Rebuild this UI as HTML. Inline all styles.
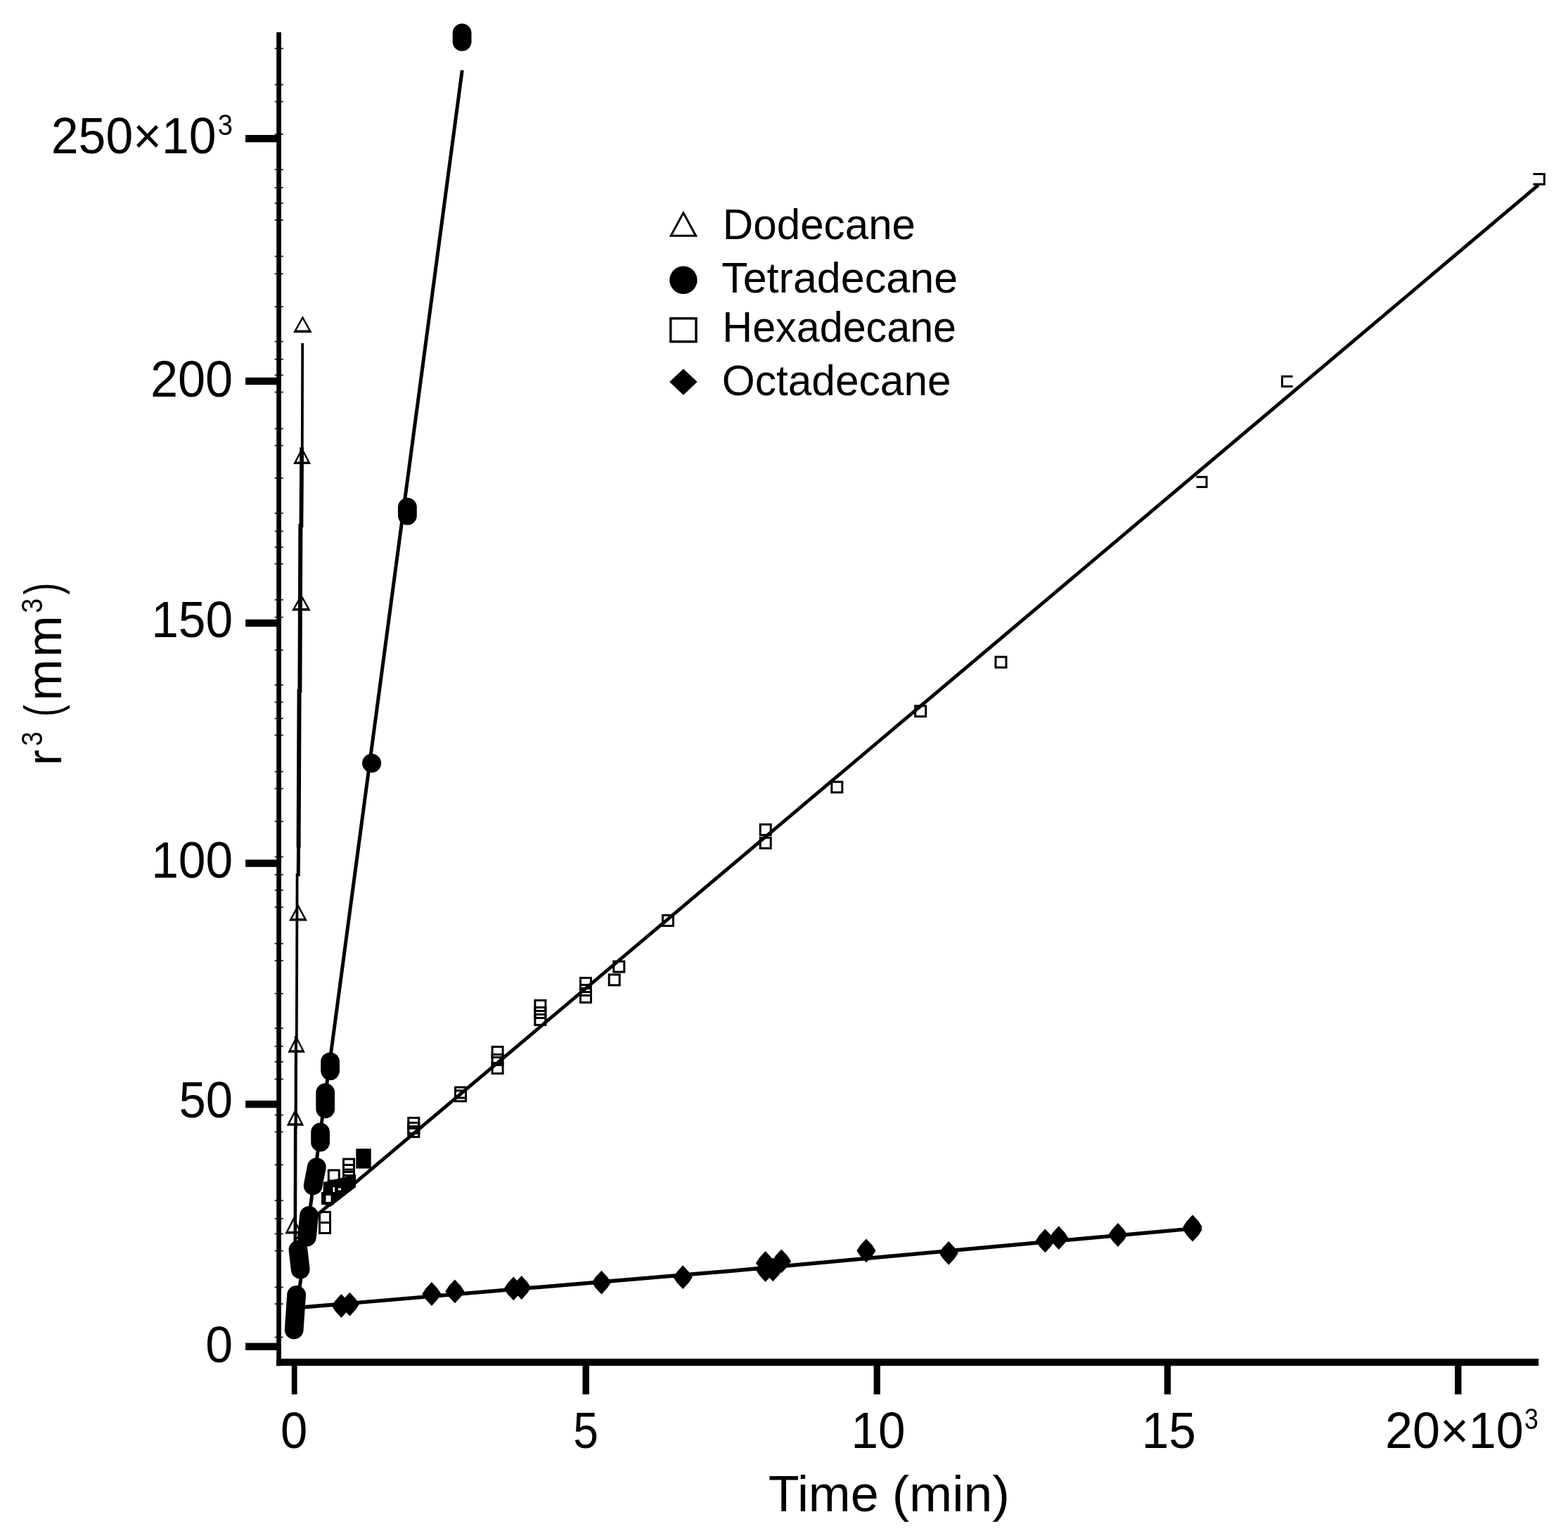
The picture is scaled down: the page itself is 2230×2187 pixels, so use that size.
<!DOCTYPE html>
<html lang="en"><head><meta charset="utf-8"><title>r³ (mm³) vs Time (min)</title>
<style>html,body{margin:0;padding:0;background:#fff;}body{width:2230px;height:2187px;overflow:hidden;}svg{display:block;}text{font-family:"Liberation Sans",Arial,sans-serif;fill:#000;}</style>
</head><body>
<svg width="2230" height="2187" viewBox="0 0 2230 2187" role="img" aria-label="Plot of r cubed versus time for four alkanes">
<rect x="0" y="0" width="2230" height="2187" fill="#fff"/>
<g id="axes" fill="#000">
<rect x="393.2" y="45.8" width="6.7" height="1896.4"/>
<rect x="393.2" y="1932.0" width="1795.0" height="10.2"/>
<rect x="349.1" y="191.9" width="45.1" height="10.4"/>
<rect x="349.1" y="536.8" width="45.1" height="10.4"/>
<rect x="349.1" y="880.8" width="45.1" height="10.4"/>
<rect x="349.1" y="1222.4" width="45.1" height="10.4"/>
<rect x="349.1" y="1565.0" width="45.1" height="10.4"/>
<rect x="349.1" y="1909.6" width="45.1" height="10.4"/>
<rect x="414.8" y="1941.2" width="7.8" height="41.5"/>
<rect x="828.5" y="1941.2" width="9.4" height="41.5"/>
<rect x="1242.6" y="1941.2" width="9.2" height="41.5"/>
<rect x="1655.7" y="1941.2" width="9.4" height="41.5"/>
<rect x="2069.1" y="1941.2" width="9.4" height="41.5"/>
</g>
<g id="minor" stroke="#000" stroke-width="1.7" opacity="0.9">
<line x1="390.6" x2="402.8" y1="68.9" y2="68.9"/>
<line x1="390.6" x2="402.8" y1="120.4" y2="120.4"/>
<line x1="390.6" x2="402.8" y1="144.5" y2="144.5"/>
<line x1="390.6" x2="402.8" y1="190.8" y2="190.8"/>
<line x1="390.6" x2="402.8" y1="241.2" y2="241.2"/>
<line x1="390.6" x2="402.8" y1="266.8" y2="266.8"/>
<line x1="390.6" x2="402.8" y1="288.9" y2="288.9"/>
<line x1="390.6" x2="402.8" y1="313.0" y2="313.0"/>
<line x1="390.6" x2="402.8" y1="364.5" y2="364.5"/>
<line x1="390.6" x2="402.8" y1="389.3" y2="389.3"/>
<line x1="390.6" x2="402.8" y1="436.1" y2="436.1"/>
<line x1="390.6" x2="402.8" y1="485.7" y2="485.7"/>
<line x1="390.6" x2="402.8" y1="510.9" y2="510.9"/>
<line x1="390.6" x2="402.8" y1="533.4" y2="533.4"/>
<line x1="390.6" x2="402.8" y1="557.6" y2="557.6"/>
<line x1="390.6" x2="402.8" y1="609.5" y2="609.5"/>
<line x1="390.6" x2="402.8" y1="633.6" y2="633.6"/>
<line x1="390.6" x2="402.8" y1="679.8" y2="679.8"/>
<line x1="390.6" x2="402.8" y1="729.8" y2="729.8"/>
<line x1="390.6" x2="402.8" y1="755.5" y2="755.5"/>
<line x1="390.6" x2="402.8" y1="778.2" y2="778.2"/>
<line x1="390.6" x2="402.8" y1="801.7" y2="801.7"/>
<line x1="390.6" x2="402.8" y1="852.9" y2="852.9"/>
<line x1="390.6" x2="402.8" y1="877.7" y2="877.7"/>
<line x1="390.6" x2="402.8" y1="924.4" y2="924.4"/>
<line x1="390.6" x2="402.8" y1="974.0" y2="974.0"/>
<line x1="390.6" x2="402.8" y1="998.5" y2="998.5"/>
<line x1="390.6" x2="402.8" y1="1021.6" y2="1021.6"/>
<line x1="390.6" x2="402.8" y1="1045.4" y2="1045.4"/>
<line x1="390.6" x2="402.8" y1="1097.3" y2="1097.3"/>
<line x1="390.6" x2="402.8" y1="1121.4" y2="1121.4"/>
<line x1="390.6" x2="402.8" y1="1168.1" y2="1168.1"/>
<line x1="390.6" x2="402.8" y1="1218.5" y2="1218.5"/>
<line x1="390.6" x2="402.8" y1="1243.7" y2="1243.7"/>
<line x1="390.6" x2="402.8" y1="1265.8" y2="1265.8"/>
<line x1="390.6" x2="402.8" y1="1289.9" y2="1289.9"/>
<line x1="390.6" x2="402.8" y1="1341.8" y2="1341.8"/>
<line x1="390.6" x2="402.8" y1="1366.0" y2="1366.0"/>
<line x1="390.6" x2="402.8" y1="1412.8" y2="1412.8"/>
<line x1="390.6" x2="402.8" y1="1462.2" y2="1462.2"/>
<line x1="390.6" x2="402.8" y1="1487.8" y2="1487.8"/>
<line x1="390.6" x2="402.8" y1="1509.9" y2="1509.9"/>
<line x1="390.6" x2="402.8" y1="1534.5" y2="1534.5"/>
<line x1="390.6" x2="402.8" y1="1585.5" y2="1585.5"/>
<line x1="390.6" x2="402.8" y1="1609.5" y2="1609.5"/>
<line x1="390.6" x2="402.8" y1="1656.3" y2="1656.3"/>
<line x1="390.6" x2="402.8" y1="1707.1" y2="1707.1"/>
<line x1="390.6" x2="402.8" y1="1732.8" y2="1732.8"/>
<line x1="390.6" x2="402.8" y1="1754.4" y2="1754.4"/>
<line x1="390.6" x2="402.8" y1="1778.6" y2="1778.6"/>
<line x1="390.6" x2="402.8" y1="1830.5" y2="1830.5"/>
<line x1="390.6" x2="402.8" y1="1854.2" y2="1854.2"/>
<line x1="390.6" x2="402.8" y1="1901.5" y2="1901.5"/>
</g>
<g id="fits" fill="none" stroke="#000" stroke-linecap="butt" stroke-linejoin="round">
<line stroke-width="3.8" x1="430.2" y1="488.0" x2="429.8" y2="640.0"/>
<line stroke-width="5.8" x1="429.2" y1="636.0" x2="428.4" y2="750.0"/>
<line stroke-width="6.0" x1="427.4" y1="745.0" x2="426.4" y2="985.0"/>
<line stroke-width="6.0" x1="425.6" y1="980.0" x2="424.6" y2="1205.0"/>
<line stroke-width="5.0" x1="424.6" y1="1200.0" x2="424.2" y2="1246.0"/>
<line stroke-width="3.8" x1="422.6" y1="1242.0" x2="421.8" y2="1478.0"/>
<line stroke-width="4.2" x1="421.0" y1="1473.0" x2="420.6" y2="1605.0"/>
<line stroke-width="4.6" x1="420.2" y1="1600.0" x2="419.8" y2="1775.0"/>
<line stroke-width="5" x1="657.3" y1="99.8" x2="417.7" y2="1894"/>
<line stroke-width="4.9" x1="440" y1="1736.9" x2="2187.8" y2="263.2"/>
<polyline stroke-width="5.4" points="432,1858.8 780,1829.2 1040,1807.2 1400,1774 1690,1747.6"/>
</g>
<g id="dodecane" fill="#000" stroke="none">
<path fill-rule="evenodd" d="M430.4 449.0 L443.7 473.0 L417.1 473.0 Z M430.4 454.0 L421.8 469.6 L439.0 469.6 Z"/>
<path fill-rule="evenodd" d="M429.6 636.0 L442.1 660.0 L417.1 660.0 Z M429.6 641.2 L421.6 656.5 L437.6 656.5 Z"/>
<path fill-rule="evenodd" d="M428.4 844.6 L441.8 868.6 L415.0 868.6 Z M428.4 849.5 L419.7 865.1 L437.1 865.1 Z"/>
<path fill-rule="evenodd" d="M424.0 1285.6 L437.0 1309.6 L411.0 1309.6 Z M424.0 1290.6 L415.6 1306.1 L432.4 1306.1 Z"/>
<path fill-rule="evenodd" d="M421.6 1472.8 L433.9 1496.8 L409.3 1496.8 Z M421.6 1478.1 L413.8 1493.3 L429.4 1493.3 Z"/>
<path fill-rule="evenodd" d="M420.0 1576.8 L432.3 1600.8 L407.7 1600.8 Z M420.0 1582.1 L412.2 1597.3 L427.8 1597.3 Z"/>
<path fill-rule="evenodd" d="M417.6 1730.6 L429.9 1754.6 L405.3 1754.6 Z M417.6 1735.9 L409.8 1751.1 L425.4 1751.1 Z"/>
</g>
<g id="hexadecane" fill="none" stroke="#000">
<rect x="1416.0" y="934.1" width="15.0" height="15.0" stroke-width="3.0"/>
<rect x="1301.7" y="1003.8" width="15.0" height="15.0" stroke-width="3.0"/>
<rect x="1182.8" y="1111.8" width="15.0" height="15.0" stroke-width="3.0"/>
<rect x="1081.2" y="1172.3" width="15.0" height="15.0" stroke-width="3.0"/>
<rect x="1081.2" y="1191.2" width="15.0" height="15.0" stroke-width="3.0"/>
<rect x="942.5" y="1301.5" width="15.0" height="15.0" stroke-width="3.0"/>
<rect x="872.8" y="1367.1" width="15.0" height="15.0" stroke-width="3.0"/>
<rect x="866.2" y="1385.9" width="15.0" height="15.0" stroke-width="3.0"/>
<rect x="825.5" y="1390.5" width="15.0" height="15.0" stroke-width="3.0"/>
<rect x="825.5" y="1400.5" width="15.0" height="15.0" stroke-width="3.0"/>
<rect x="825.5" y="1410.5" width="15.0" height="15.0" stroke-width="3.0"/>
<rect x="760.9" y="1422.5" width="15.0" height="15.0" stroke-width="3.0"/>
<rect x="760.9" y="1432.5" width="15.0" height="15.0" stroke-width="3.0"/>
<rect x="760.9" y="1442.5" width="15.0" height="15.0" stroke-width="3.0"/>
<rect x="700.1" y="1488.5" width="15.0" height="15.0" stroke-width="3.0"/>
<rect x="700.1" y="1499.5" width="15.0" height="15.0" stroke-width="3.0"/>
<rect x="700.1" y="1511.5" width="15.0" height="15.0" stroke-width="3.0"/>
<rect x="647.5" y="1546.1" width="15.0" height="15.0" stroke-width="3.0"/>
<rect x="647.5" y="1550.9" width="15.0" height="15.0" stroke-width="3.0"/>
<rect x="580.8" y="1589.5" width="15.0" height="15.0" stroke-width="3.0"/>
<rect x="580.8" y="1596.5" width="15.0" height="15.0" stroke-width="3.0"/>
<rect x="580.8" y="1601.7" width="15.0" height="15.0" stroke-width="3.0"/>
<rect x="488.5" y="1648.1" width="15.0" height="15.0" stroke-width="3.0"/>
<rect x="488.5" y="1656.5" width="15.0" height="15.0" stroke-width="3.0"/>
<rect x="488.5" y="1666.5" width="15.0" height="15.0" stroke-width="3.0"/>
<rect x="467.3" y="1664.0" width="15.0" height="15.0" stroke-width="3.0"/>
<rect x="458.5" y="1696.5" width="15.0" height="15.0" stroke-width="3.0"/>
<rect x="454.5" y="1723.5" width="15.0" height="15.0" stroke-width="3.0"/>
<rect x="454.5" y="1738.5" width="15.0" height="15.0" stroke-width="3.0"/>
<rect x="428.5" y="1750.5" width="15.0" height="15.0" stroke-width="3.0"/>
<rect x="420.5" y="1760.5" width="15.0" height="15.0" stroke-width="3.0"/>
<path stroke-width="3" d="M1838.6 535.2 L1823.4 535.2 L1823.4 549.6 L1838.6 549.6"/>
<path stroke-width="3" d="M1701.5 678.3 L1716 678.3 L1716 692.6 L1701.5 692.6"/>
<path stroke-width="3" d="M2180.4 247.5 L2196.3 247.5 L2196.3 262 L2180.4 262"/>
<rect x="506.3" y="1633.4" width="21.4" height="28.2" fill="#000" stroke="none"/>
<path fill="#000" stroke="none" d="M460 1681 L506 1670 L506 1688 L470 1716 L459 1712 Z"/>
<rect x="481" y="1689.5" width="4" height="3" fill="#fff" stroke="none"/>
<rect x="473.5" y="1688" width="2.5" height="7" fill="#fff" stroke="none"/>
<rect x="463.5" y="1700" width="7" height="9" fill="#fff" stroke="none"/>
</g>
<g id="tetradecane" fill="#000">
<line x1="657.1" y1="47.0" x2="657.1" y2="59.2" stroke="#000" stroke-width="26.8" stroke-linecap="round"/>
<line x1="579.4" y1="721.2" x2="579.4" y2="733.2" stroke="#000" stroke-width="26.8" stroke-linecap="round"/>
<line x1="469.6" y1="1509.8" x2="469.6" y2="1522.7" stroke="#000" stroke-width="26.8" stroke-linecap="round"/>
<line x1="462.7" y1="1553.7" x2="462.7" y2="1576.8" stroke="#000" stroke-width="26.8" stroke-linecap="round"/>
<line x1="455.6" y1="1610.0" x2="455.6" y2="1624.2" stroke="#000" stroke-width="26.8" stroke-linecap="round"/>
<line x1="450.3" y1="1659.6" x2="445.2" y2="1686.0" stroke="#000" stroke-width="26.8" stroke-linecap="round"/>
<line x1="439.6" y1="1728.4" x2="436.4" y2="1759.2" stroke="#000" stroke-width="26.8" stroke-linecap="round"/>
<line x1="424.0" y1="1777.0" x2="427.2" y2="1805.2" stroke="#000" stroke-width="26.8" stroke-linecap="round"/>
<line x1="421.6" y1="1841.4" x2="418.2" y2="1890.9" stroke="#000" stroke-width="26.8" stroke-linecap="round"/>
<circle cx="528.6" cy="1085.3" r="13.5"/>
</g>
<g id="octadecane" fill="#000">
<path d="M485.4 1840.1 L493.8 1849.2 L499.0 1857.0 L493.8 1864.8 L485.4 1873.9 L477.0 1864.8 L471.8 1857.0 L477.0 1849.2 Z"/>
<path d="M497.4 1837.7 L505.8 1846.8 L511.0 1854.6 L505.8 1862.4 L497.4 1871.5 L489.0 1862.4 L483.8 1854.6 L489.0 1846.8 Z"/>
<path d="M613.9 1823.1 L622.3 1832.2 L627.5 1840.0 L622.3 1847.8 L613.9 1856.9 L605.5 1847.8 L600.3 1840.0 L605.5 1832.2 Z"/>
<path d="M646.9 1819.5 L655.3 1828.6 L660.5 1836.4 L655.3 1844.2 L646.9 1853.3 L638.5 1844.2 L633.3 1836.4 L638.5 1828.6 Z"/>
<path d="M730.3 1815.5 L738.7 1824.6 L743.9 1832.4 L738.7 1840.2 L730.3 1849.3 L721.9 1840.2 L716.7 1832.4 L721.9 1824.6 Z"/>
<path d="M741.7 1814.1 L750.1 1823.2 L755.3 1831.0 L750.1 1838.8 L741.7 1847.9 L733.3 1838.8 L728.1 1831.0 L733.3 1823.2 Z"/>
<path d="M855.4 1806.7 L863.8 1815.8 L869.0 1823.6 L863.8 1831.4 L855.4 1840.5 L847.0 1831.4 L841.8 1823.6 L847.0 1815.8 Z"/>
<path d="M971.2 1799.3 L979.6 1808.4 L984.8 1816.2 L979.6 1824.0 L971.2 1833.1 L962.8 1824.0 L957.6 1816.2 L962.8 1808.4 Z"/>
<path d="M1088.6 1779.1 L1097.0 1788.2 L1102.2 1796.0 L1097.0 1803.8 L1088.6 1812.9 L1080.2 1803.8 L1075.0 1796.0 L1080.2 1788.2 Z"/>
<path d="M1088.6 1789.1 L1097.0 1798.2 L1102.2 1806.0 L1097.0 1813.8 L1088.6 1822.9 L1080.2 1813.8 L1075.0 1806.0 L1080.2 1798.2 Z"/>
<path d="M1099.3 1788.5 L1107.7 1797.6 L1112.9 1805.4 L1107.7 1813.2 L1099.3 1822.3 L1090.9 1813.2 L1085.7 1805.4 L1090.9 1797.6 Z"/>
<path d="M1111.4 1776.5 L1119.8 1785.6 L1125.0 1793.4 L1119.8 1801.2 L1111.4 1810.3 L1103.0 1801.2 L1097.8 1793.4 L1103.0 1785.6 Z"/>
<path d="M1232.0 1761.5 L1240.4 1770.6 L1245.6 1778.4 L1240.4 1786.2 L1232.0 1795.3 L1223.6 1786.2 L1218.4 1778.4 L1223.6 1770.6 Z"/>
<path d="M1349.2 1764.9 L1357.6 1774.0 L1362.8 1781.8 L1357.6 1789.6 L1349.2 1798.7 L1340.8 1789.6 L1335.6 1781.8 L1340.8 1774.0 Z"/>
<path d="M1486.4 1747.5 L1494.8 1756.6 L1500.0 1764.4 L1494.8 1772.2 L1486.4 1781.3 L1478.0 1772.2 L1472.8 1764.4 L1478.0 1756.6 Z"/>
<path d="M1505.8 1743.3 L1514.2 1752.4 L1519.4 1760.2 L1514.2 1768.0 L1505.8 1777.1 L1497.4 1768.0 L1492.2 1760.2 L1497.4 1752.4 Z"/>
<path d="M1589.9 1739.1 L1598.3 1748.2 L1603.5 1756.0 L1598.3 1763.8 L1589.9 1772.9 L1581.5 1763.8 L1576.3 1756.0 L1581.5 1748.2 Z"/>
<path d="M1696.1 1727.5 L1704.5 1736.6 L1709.7 1744.4 L1704.5 1752.2 L1696.1 1761.3 L1687.7 1752.2 L1682.5 1744.4 L1687.7 1736.6 Z"/>
<path d="M1696.1 1731.7 L1704.5 1740.8 L1709.7 1748.6 L1704.5 1756.4 L1696.1 1765.5 L1687.7 1756.4 L1682.5 1748.6 L1687.7 1740.8 Z"/>
</g>
<g id="legend">
<path d="M971.9 302.6 L989.6 335.2 L954.2 335.2 Z" fill="none" stroke="#000" stroke-width="3"/>
<circle cx="971.9" cy="398.2" r="19.7" fill="#000"/>
<rect x="953.8" y="452.8" width="36.2" height="33.0" fill="none" stroke="#000" stroke-width="3.4"/>
<path d="M971.9 524.6 L991.7 543.1 L971.9 561.7 L952.1 543.1 Z" fill="#000"/>
</g>
<g id="labels">
<text><tspan x="72.83" y="218.40" font-size="71.70" textLength="234.71" lengthAdjust="spacingAndGlyphs">250×10</tspan><tspan x="309.81" y="192.00" font-size="42.00" textLength="21.24" lengthAdjust="spacingAndGlyphs">3</tspan></text>
<text><tspan x="213.91" y="564.40" font-size="71.70" textLength="117.24" lengthAdjust="spacingAndGlyphs">200</tspan></text>
<text><tspan x="215.16" y="905.90" font-size="71.70" textLength="115.98" lengthAdjust="spacingAndGlyphs">150</tspan></text>
<text><tspan x="215.16" y="1247.80" font-size="71.70" textLength="115.98" lengthAdjust="spacingAndGlyphs">100</tspan></text>
<text><tspan x="254.45" y="1589.30" font-size="71.70" textLength="76.67" lengthAdjust="spacingAndGlyphs">50</tspan></text>
<text><tspan x="292.32" y="1936.50" font-size="71.70" textLength="38.82" lengthAdjust="spacingAndGlyphs">0</tspan></text>
<text><tspan x="399.04" y="2059.20" font-size="71.70" textLength="38.37" lengthAdjust="spacingAndGlyphs">0</tspan></text>
<text><tspan x="815.19" y="2059.20" font-size="71.70" textLength="35.71" lengthAdjust="spacingAndGlyphs">5</tspan></text>
<text><tspan x="1210.47" y="2059.20" font-size="71.70" textLength="77.05" lengthAdjust="spacingAndGlyphs">10</tspan></text>
<text><tspan x="1623.66" y="2059.40" font-size="71.70" textLength="77.26" lengthAdjust="spacingAndGlyphs">15</tspan></text>
<text><tspan x="1969.91" y="2059.20" font-size="71.70" textLength="196.93" lengthAdjust="spacingAndGlyphs">20×10</tspan><tspan x="2168.08" y="2032.40" font-size="42.00" textLength="19.86" lengthAdjust="spacingAndGlyphs">3</tspan></text>
<text><tspan x="1092.68" y="2149.00" font-size="71.50" textLength="157.04" lengthAdjust="spacingAndGlyphs">Time</tspan> <tspan x="1268.66" y="2149.00" font-size="71.50" textLength="167.24" lengthAdjust="spacingAndGlyphs">(min)</tspan></text>
<text><tspan x="1027.80" y="339.60" font-size="60.50" textLength="274.24" lengthAdjust="spacingAndGlyphs">Dodecane</tspan></text>
<text><tspan x="1026.15" y="416.30" font-size="60.50" textLength="336.03" lengthAdjust="spacingAndGlyphs">Tetradecane</tspan></text>
<text><tspan x="1027.37" y="485.80" font-size="60.50" textLength="332.73" lengthAdjust="spacingAndGlyphs">Hexadecane</tspan></text>
<text><tspan x="1026.67" y="562.20" font-size="60.50" textLength="326.09" lengthAdjust="spacingAndGlyphs">Octadecane</tspan></text>
<g transform="translate(86.6 1084.0) rotate(-90)">
<text><tspan x="-4.14" y="0.00" font-size="71.00" textLength="22.06" lengthAdjust="spacingAndGlyphs">r</tspan><tspan x="23.16" y="-26.40" font-size="42.00" textLength="20.32" lengthAdjust="spacingAndGlyphs">3</tspan> <tspan x="64.82" y="-3.00" font-size="71.00" textLength="16.93" lengthAdjust="spacingAndGlyphs">(</tspan><tspan x="87.46" y="0.00" font-size="71.00" letter-spacing="2.93">mm</tspan><tspan x="212.23" y="-26.40" font-size="42.00" textLength="20.90" lengthAdjust="spacingAndGlyphs">3</tspan><tspan x="238.60" y="-3.00" font-size="71.00" textLength="16.93" lengthAdjust="spacingAndGlyphs">)</tspan></text>
</g>
</g>
</svg>
</body></html>
